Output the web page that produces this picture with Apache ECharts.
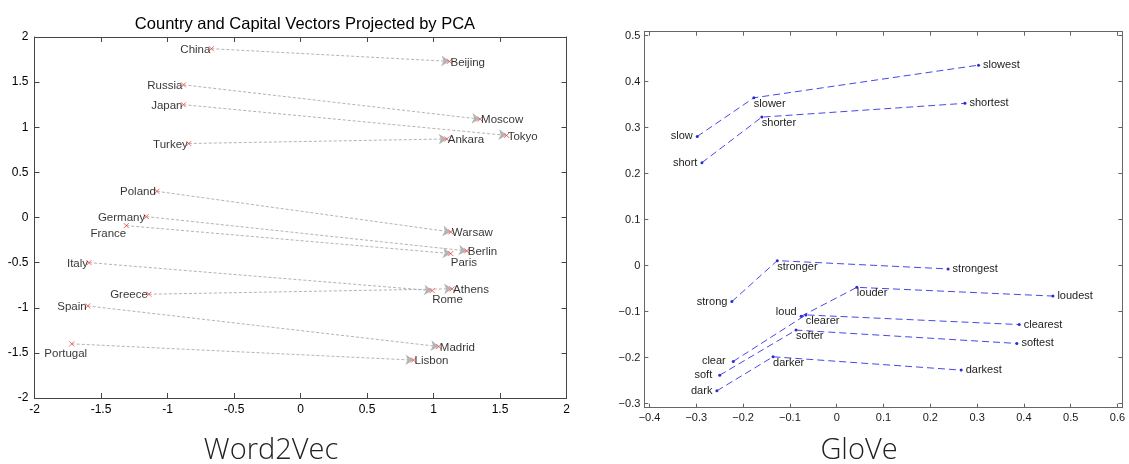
<!DOCTYPE html>
<html>
<head>
<meta charset="utf-8">
<script src="https://cdn.jsdelivr.net/npm/echarts@6/dist/echarts.min.js"></script>
<style>
html,body{margin:0;padding:0;background:#fff;}
#chart{width:1129px;height:464px;}
</style>
</head>
<body>
<div id="chart"></div>
<script>
// ---------- Word2Vec (left) data ----------
const countries = ['China','Russia','Japan','Turkey','Poland','Germany','France','Italy','Greece','Spain','Portugal'];
const countryX  = [-0.67,-0.88,-0.88,-0.84,-1.08,-1.16,-1.31,-1.59,-1.14,-1.60,-1.72];
const countryY  = [1.87,1.47,1.25,0.82,0.29,0.01,-0.09,-0.50,-0.85,-0.98,-1.40];
const capitals  = ['Beijing','Moscow','Tokyo','Ankara','Warsaw','Berlin','Paris','Rome','Athens','Madrid','Lisbon'];
const capitalX  = [1.12,1.35,1.55,1.10,1.13,1.25,1.13,0.99,1.14,1.04,0.85];
const capitalY  = [1.73,1.09,0.91,0.87,-0.16,-0.37,-0.40,-0.81,-0.79,-1.43,-1.58];
const w2vTicks  = [-2,-1.5,-1,-0.5,0,0.5,1,1.5,2];

// ---------- GloVe (right) data ----------
const gloveBase = ['slow','short','strong','loud','clear','soft','dark'];
const baseX = [-0.298,-0.288,-0.224,-0.076,-0.221,-0.250,-0.256];
const baseY = [0.281,0.224,-0.078,-0.110,-0.208,-0.238,-0.272];
const gloveComp = ['slower','shorter','stronger','louder','clearer','softer','darker'];
const compX = [-0.177,-0.160,-0.127,0.043,-0.066,-0.087,-0.136];
const compY = [0.365,0.323,0.011,-0.047,-0.107,-0.140,-0.198];
const gloveSup = ['slowest','shortest','strongest','loudest','clearest','softest','darkest'];
const supX = [0.303,0.274,0.238,0.462,0.390,0.385,0.266];
const supY = [0.436,0.353,-0.007,-0.066,-0.128,-0.169,-0.227];
const gloveXTicks = [-0.4,-0.3,-0.2,-0.1,0,0.1,0.2,0.3,0.4,0.5,0.6];
const gloveYTicks = [-0.3,-0.2,-0.1,0,0.1,0.2,0.3,0.4,0.5];

// ---------- styling / layout ----------
const FONT = 'Liberation Sans, Arial, sans-serif';
const countryLabelOverride = {
  France:   {position:'left', distance:0, offset:[3,8]},
  Portugal: {position:'bottom', distance:1, offset:[-6,0]}
};
const capitalLabelOverride = {
  Paris: {position:'right', distance:-3, offset:[0,9]},
  Rome:  {position:'right', distance:-3, offset:[0,9]}
};
const baseLabelOverride = { loud: {offset:[0,-4]}, clear:{distance:6}, soft:{distance:6} };

const xMark = 'path://M0,0L10,10M0,10L10,0';
const minusFmt = v => {
  const r = Math.round(v*10)/10;
  if (r === 0) return '0';
  return (r < 0 ? '\u2212' : '') + Math.abs(r).toFixed(1);
};

const lgrid = {left:34.5, top:37, width:532, height:361};
const fgrid = {left:644.3, top:31.7, width:478, height:376};
const dgrid = {left:649.5, top:35.7, width:468, height:368};

const leftAxisColor = '#444';
const rightAxisColor = '#666';

function frameAxis(pos, gridIndex, min, max, color){
  return {type:'value', gridIndex, position:pos, min, max,
    axisLine:{show:true, onZero:false, lineStyle:{color, width:1}},
    axisTick:{show:false}, axisLabel:{show:false}, splitLine:{show:false}};
}

const chart = echarts.init(document.getElementById('chart'), null, {renderer:'canvas'});

const w2vMin = w2vTicks[0], w2vMax = w2vTicks[w2vTicks.length-1];
const w2vInt = w2vTicks[1]-w2vTicks[0];

function w2vAxis(pos, labels){
  return {type:'value', gridIndex:0, position:pos, min:w2vMin, max:w2vMax, interval:w2vInt,
    axisLine:{show:true, onZero:false, lineStyle:{color:leftAxisColor, width:1}},
    axisTick:{show:true, inside:true, length:5, lineStyle:{color:leftAxisColor}},
    axisLabel:{show:labels, color:'#000', fontFamily:FONT, fontSize:12, margin:6,
      showMinLabel:true, showMaxLabel:true},
    splitLine:{show:false}};
}

const gxMin = gloveXTicks[0], gxMax = gloveXTicks[gloveXTicks.length-1];
const gyMin = gloveYTicks[0], gyMax = gloveYTicks[gloveYTicks.length-1];
const gInt = 0.1;

function gloveAxis(pos, isX, labels, offset){
  return {type:'value', gridIndex:2, position:pos, offset,
    min: isX ? gxMin : gyMin, max: isX ? gxMax : gyMax, interval:gInt,
    axisLine:{show:false, onZero:false},
    axisTick:{show:true, inside:true, length:4, lineStyle:{color:rightAxisColor}},
    axisLabel:{show:labels, color:'#1a1a1a', fontFamily:FONT, fontSize:11, margin:isX?5:4,
      formatter:minusFmt, showMinLabel:true, showMaxLabel:true},
    splitLine:{show:false}};
}

// frame ranges for right plot (extend slightly past tick range)
const pxPerX = dgrid.width/(gxMax-gxMin), pxPerY = dgrid.height/(gyMax-gyMin);
const fxMin = gxMin - (dgrid.left-fgrid.left)/pxPerX;
const fxMax = gxMax + ((fgrid.left+fgrid.width)-(dgrid.left+dgrid.width))/pxPerX;
const fyMax = gyMax + (dgrid.top-fgrid.top)/pxPerY;
const fyMin = gyMin - ((fgrid.top+fgrid.height)-(dgrid.top+dgrid.height))/pxPerY;

const series = [];

// arrows country -> capital
series.push({
  type:'lines', coordinateSystem:'cartesian2d', xAxisIndex:0, yAxisIndex:0,
  symbol:['none','arrow'], symbolSize:8, silent:true, z:2,
  lineStyle:{color:'#b4b4b4', width:1, type:[3,2], opacity:1},
  data: countries.map((c,i)=>({coords:[[countryX[i],countryY[i]],[capitalX[i],capitalY[i]]]}))
});

const xItemStyle = {color:'rgba(0,0,0,0)', borderColor:'#ee4444', borderWidth:1};
series.push({
  type:'scatter', xAxisIndex:0, yAxisIndex:0, symbol:xMark, symbolSize:5, z:3,
  itemStyle:xItemStyle,
  label:{show:true, position:'left', distance:0, offset:[2,1], color:'#000', fontFamily:FONT, fontSize:11.5,
    formatter:p=>p.name},
  data: countries.map((c,i)=>{
    const d = {name:c, value:[countryX[i],countryY[i]]};
    if (countryLabelOverride[c]) d.label = countryLabelOverride[c];
    return d;
  })
});
series.push({
  type:'scatter', xAxisIndex:0, yAxisIndex:0, symbol:xMark, symbolSize:5, z:3,
  itemStyle:xItemStyle,
  label:{show:true, position:'right', distance:0, offset:[-2,1], color:'#000', fontFamily:FONT, fontSize:11.5,
    formatter:p=>p.name},
  data: capitals.map((c,i)=>{
    const d = {name:c, value:[capitalX[i],capitalY[i]]};
    if (capitalLabelOverride[c]) d.label = capitalLabelOverride[c];
    return d;
  })
});

// GloVe triples
const gLabel = {show:true, color:'#222', fontFamily:FONT, fontSize:11, formatter:p=>p.name};
gloveBase.forEach((b,i)=>{
  series.push({
    type:'line', xAxisIndex:4, yAxisIndex:4, z:3,
    symbol:'circle', symbolSize:3, showSymbol:true,
    itemStyle:{color:'#2a2ad6'},
    lineStyle:{color:'#4848ea', width:1, type:[7,4]},
    data:[
      {name:b, value:[baseX[i],baseY[i]],
        label:Object.assign({}, gLabel, {position:'left', distance:3}, baseLabelOverride[b]||{})},
      {name:gloveComp[i], value:[compX[i],compY[i]],
        label:Object.assign({}, gLabel, {position:'right', distance:-1.5, offset:[0,6]})},
      {name:gloveSup[i], value:[supX[i],supY[i]],
        label:Object.assign({}, gLabel, {position:'right', distance:3})}
    ]
  });
});

const option = {
  animation:false,
  backgroundColor:'#fff',
  title:[
    {text:'Country and Capital Vectors Projected by PCA', left:300, top:11, textAlign:'center',
      textStyle:{fontFamily:FONT, fontSize:16.5, fontWeight:'normal', color:'#000'}},
    {text:'Word2Vec', left:266, top:431, textAlign:'center',
      textStyle:{fontFamily:'Open Sans, sans-serif', fontSize:29, fontWeight:300, color:'#222'}},
    {text:'GloVe', left:854, top:431, textAlign:'center',
      textStyle:{fontFamily:'Open Sans, sans-serif', fontSize:29, fontWeight:300, color:'#222'}}
  ],
  grid:[
    Object.assign({containLabel:false}, lgrid),
    Object.assign({containLabel:false}, fgrid),
    Object.assign({containLabel:false}, dgrid)
  ],
  xAxis:[
    w2vAxis('bottom', true),
    w2vAxis('top', false),
    frameAxis('bottom', 1, fxMin, fxMax, rightAxisColor),
    frameAxis('top', 1, fxMin, fxMax, rightAxisColor),
    gloveAxis('bottom', true, true, (fgrid.top+fgrid.height)-(dgrid.top+dgrid.height)),
    gloveAxis('top', true, false, dgrid.top-fgrid.top)
  ],
  yAxis:[
    w2vAxis('left', true),
    w2vAxis('right', false),
    frameAxis('left', 1, fyMin, fyMax, rightAxisColor),
    frameAxis('right', 1, fyMin, fyMax, rightAxisColor),
    gloveAxis('left', false, true, dgrid.left-fgrid.left),
    gloveAxis('right', false, false, (fgrid.left+fgrid.width)-(dgrid.left+dgrid.width))
  ],
  series
};
chart.setOption(option);
</script>
</body>
</html>
